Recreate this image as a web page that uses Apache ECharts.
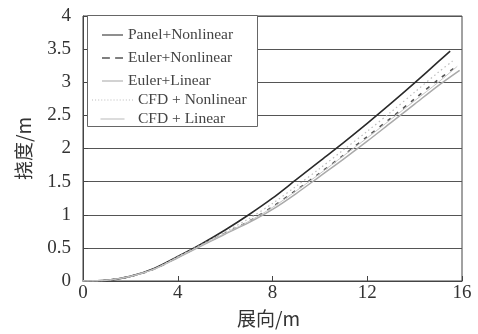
<!DOCTYPE html>
<html><head><meta charset="utf-8">
<script src="https://cdn.jsdelivr.net/npm/echarts@6/dist/echarts.min.js"></script>
<style>html,body{margin:0;padding:0;background:#fff}#c{width:478px;height:334px}</style>
</head><body><div id="c"></div>
<script>
// Data
const seriesNames = ['Panel+Nonlinear','Euler+Nonlinear','Euler+Linear','CFD + Nonlinear','CFD + Linear'];
const xTicks = [0, 4, 8, 12, 16];
const yTicks = [0, 0.5, 1, 1.5, 2, 2.5, 3, 3.5, 4];

const spanPanelNL = [0,1,2,3,4,5,6,7,8,9,10,11,12,13,14,15,15.5];
const defPanelNL  = [0,0.01,0.07,0.19,0.37,0.56,0.77,1.0,1.25,1.53,1.81,2.09,2.38,2.68,2.99,3.31,3.47];

const spanEulerNL = [0,1,2,3,4,5,6,7,8,9,10,11,12,13,14,15,15.7];
const defEulerNL  = [0,0.01,0.07,0.18,0.36,0.54,0.72,0.9,1.12,1.37,1.63,1.9,2.18,2.46,2.75,3.04,3.22];

const spanEulerL  = [0,1,2,3,4,5,6,7,8,9,10,11,12,13,14,15,15.9];
const defEulerL   = [0,0.01,0.07,0.18,0.35,0.53,0.71,0.88,1.08,1.32,1.58,1.84,2.11,2.39,2.67,2.95,3.18];

const spanCfdNL   = [0,1,2,3,4,5,6,7,8,9,10,11,12,13,14,15,15.6];
const defCfdNL    = [0,0.01,0.07,0.18,0.37,0.55,0.74,0.94,1.17,1.43,1.7,1.98,2.26,2.55,2.85,3.15,3.32];

const spanCfdL    = [0,1,2,3,4,5,6,7,8,9,10,11,12,13,14,15,15.8];
const defCfdL     = [0,0.01,0.07,0.18,0.36,0.54,0.72,0.9,1.11,1.36,1.62,1.89,2.16,2.44,2.72,3.0,3.24];

const pairs = (xs, ys) => xs.map((x, i) => [x, ys[i]]);

const serif = '"Liberation Serif","Times New Roman",serif';
const cjk = '"Noto Sans CJK SC","Liberation Serif",serif';

const lineIcon = 'path://M0,0H20V1H0Z';
const dashIcon = 'path://M0,0H6V1H0Z M10,0H16V1H10Z';
let dots = '';
for (let i = 0; i < 40; i += 3) dots += 'M' + i + ',0H' + (i + 1) + 'V1H' + i + 'Z ';
const dotIcon = 'path://' + dots;

const chart = echarts.init(document.getElementById('c'), null, {renderer: 'canvas'});
const mk = (name, xs, ys, color, width, type) => ({
  name, type: 'line', data: pairs(xs, ys), smooth: 0.3, showSymbol: false, symbol: 'none',
  lineStyle: {color, width, type}, itemStyle: {color}, z: 5
});
const legendText = {color: '#444', fontFamily: serif, fontSize: 15.5};
chart.setOption({
  animation: false,
  backgroundColor: '#fff',
  grid: {left: 83, right: 16, top: 16, bottom: 53, show: true, borderColor: '#444', borderWidth: 1},
  xAxis: {
    type: 'value', min: 0, max: 16, interval: 4,
    axisLine: {lineStyle: {color: '#444', width: 1}},
    axisTick: {inside: true, length: 5, lineStyle: {color: '#444'}},
    axisLabel: {color: '#333', fontFamily: serif, fontSize: 19, margin: 3},
    splitLine: {show: false},
    name: '展向/m', nameLocation: 'middle', nameGap: 28,
    nameTextStyle: {color: '#333', fontFamily: cjk, fontSize: 19, padding: [0, 8, 0, 0]},
  },
  yAxis: {
    type: 'value', min: 0, max: 4, interval: 0.5,
    axisLine: {lineStyle: {color: '#444', width: 1}},
    axisTick: {inside: true, length: 5, lineStyle: {color: '#444'}},
    axisLabel: {color: '#333', fontFamily: serif, fontSize: 19, margin: 12},
    splitLine: {show: true, lineStyle: {color: '#555', width: 1}},
    name: '挠度/m', nameLocation: 'middle', nameGap: 50, nameRotate: 90,
    nameTextStyle: {color: '#333', fontFamily: cjk, fontSize: 19}
  },
  graphic: [{
    type: 'rect', z: 3, shape: {x: 87.5, y: 15.5, width: 170, height: 111},
    style: {fill: '#fff', stroke: '#666', lineWidth: 1}
  }],
  legend: [{
    data: [
      {name: seriesNames[0], icon: lineIcon},
      {name: seriesNames[1], icon: dashIcon},
      {name: seriesNames[2], icon: lineIcon}
    ],
    orient: 'vertical', left: 97, top: 22,
    itemWidth: 21, itemHeight: 2, itemGap: 7,
    textStyle: legendText
  }, {
    data: [
      {name: seriesNames[3], icon: dotIcon},
      {name: seriesNames[4], icon: lineIcon}
    ],
    orient: 'vertical', left: 87, top: 87,
    itemWidth: 41, itemHeight: 1.2, itemGap: 3,
    textStyle: legendText
  }],
  series: [
    mk(seriesNames[0], spanPanelNL, defPanelNL, '#2a2a2a', 1.6, 'solid'),
    mk(seriesNames[1], spanEulerNL, defEulerNL, '#555', 1.6, [4, 6]),
    mk(seriesNames[2], spanEulerL, defEulerL, '#aaa', 1.5, 'solid'),
    mk(seriesNames[3], spanCfdNL, defCfdNL, '#bbb', 1.2, [1.5, 3]),
    mk(seriesNames[4], spanCfdL, defCfdL, '#c4c4c4', 1, 'solid')
  ]
});
</script></body></html>
